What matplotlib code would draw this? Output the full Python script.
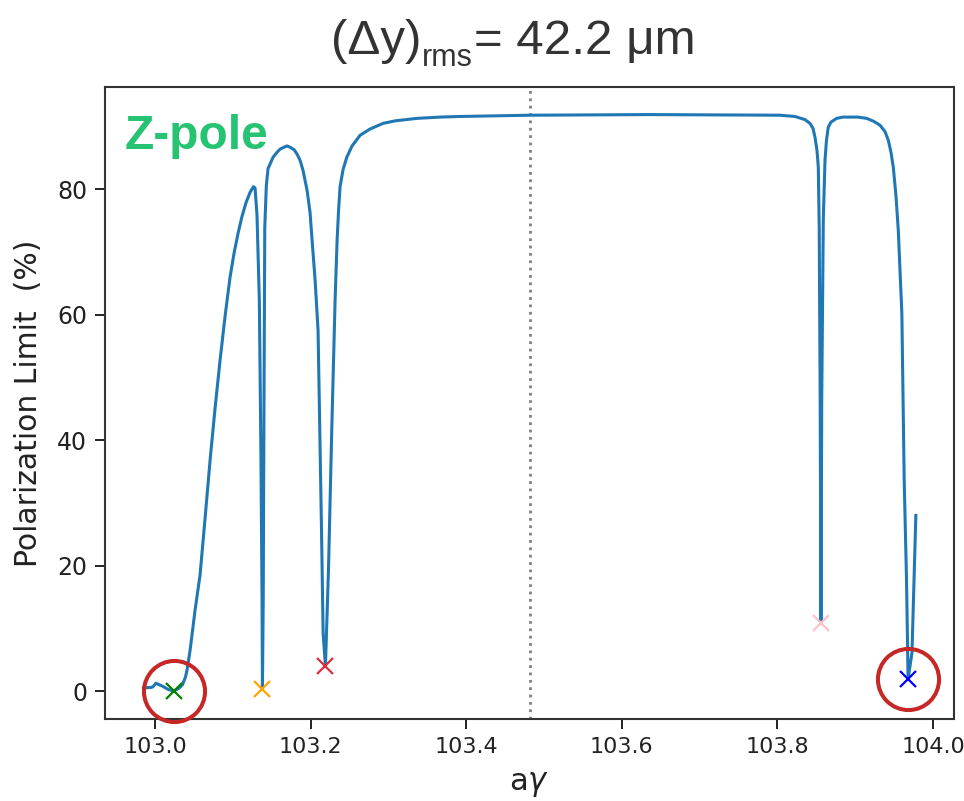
import matplotlib
matplotlib.use("Agg")
import matplotlib.pyplot as plt

# ---- data ----
a_gamma = [102.985, 102.994, 102.997, 103.001, 103.009, 103.017, 103.024, 103.031,
           103.035, 103.039, 103.041, 103.045, 103.0514, 103.0578, 103.0643, 103.0707,
           103.0771, 103.0835, 103.0900, 103.0964, 103.1015, 103.1067, 103.1118, 103.1170,
           103.1221, 103.1264, 103.1285, 103.131, 103.134, 103.136, 103.1375, 103.138,
           103.139, 103.140, 103.141, 103.143, 103.1452, 103.1517, 103.1568, 103.1607,
           103.1658, 103.1697, 103.1735, 103.1787, 103.1825, 103.1864, 103.1902, 103.1954,
           103.1992, 103.2018, 103.2057, 103.2095, 103.214, 103.216, 103.219, 103.223,
           103.227, 103.2314, 103.234, 103.2359, 103.2378, 103.2416, 103.2464, 103.2532,
           103.2635, 103.2763, 103.2931, 103.3085, 103.3368, 103.3663, 103.392, 103.482,
           103.636, 103.803, 103.8226, 103.8355, 103.8419, 103.8458, 103.8483, 103.8509,
           103.8526, 103.8538, 103.855, 103.856, 103.857, 103.859, 103.8612, 103.8631,
           103.8654, 103.8689, 103.8762, 103.8843, 103.8933, 103.9036, 103.9148, 103.9242,
           103.9319, 103.9383, 103.9426, 103.9460, 103.949, 103.9524, 103.9554, 103.960,
           103.963, 103.966, 103.968, 103.973, 103.978]
pol_limit = [0.5, 0.56, 0.64, 1.23, 0.80, 0.24, 0.0, 0.48,
             0.96, 2.2, 3.3, 6.5, 12.9, 18.5, 27.6, 36.8,
             45.1, 52.7, 59.8, 66.0, 69.8, 73.0, 75.7, 77.9,
             79.5, 80.4, 80.2, 75.9, 62.3, 38.4, 14.5, 0.3,
             14.5, 46.4, 73.9, 80.6, 83.3, 85.1, 85.9, 86.4,
             86.7, 86.9, 86.7, 86.3, 85.6, 84.6, 83.0, 79.8,
             76.3, 71.9, 65.5, 57.5, 25.2, 9.2, 4.0, 19.8,
             41.1, 62.3, 71.9, 76.7, 80.4, 83.1, 85.1, 86.9,
             88.6, 89.6, 90.5, 90.9, 91.3, 91.5, 91.6, 91.8,
             91.9, 91.8, 91.6, 91.1, 90.5, 89.7, 88.3, 86.2,
             83.5, 73.5, 46.4, 10.8, 46.4, 75.1, 84.6, 87.8,
             89.9, 90.7, 91.3, 91.5, 91.5, 91.5, 91.3, 90.8,
             90.2, 89.2, 87.8, 85.9, 83.5, 79.0, 73.5, 60.2,
             33.6, 17.7, 1.9, 6.1, 28.0]

res_x = [103.024, 103.138, 103.219, 103.856, 103.968]
res_y = [0.0, 0.3, 4.0, 10.8, 1.9]
res_colors = ["green", "orange", "#dc2f3c", "pink", "blue"]
circled = [0, 4]

nominal = 103.482
x_ticks = [103.0, 103.2, 103.4, 103.6, 103.8, 104.0]
y_ticks = [0, 20, 40, 60, 80]

title_main = "(Δy)"
title_sub = "rms"
title_rest = "= 42.2 μm"

# ---- figure ----
fig = plt.figure(figsize=(9.64, 8.01), dpi=100)
ax = fig.add_axes([0.109, 0.1024, 0.8806, 0.789])

ax.plot(a_gamma, pol_limit, color="#1f77b4", lw=2.2, zorder=2,
        solid_joinstyle="round")
ax.axvline(nominal, color="#808080", ls=":", lw=2.0, zorder=1)
for xv, yv, c in zip(res_x, res_y, res_colors):
    ax.plot([xv], [yv], marker="x", color=c, ms=12, mew=1.6, ls="none", zorder=3)
ax.plot([res_x[i] for i in circled], [res_y[i] for i in circled], marker="o",
        ms=44, mfc="none", mec="#c62828", mew=2.9, ls="none", clip_on=False, zorder=4)

ax.set_xlim(102.9357, 104.027)
ax.set_ylim(-4.46, 96.3)
ax.set_xticks(x_ticks)
ax.set_xticklabels([f"{v:.1f}" for v in x_ticks])
ax.set_yticks(y_ticks)
ax.tick_params(labelsize=17, length=7, width=1.4, pad=6, colors="#222222")
ax.tick_params(axis="x", labelsize=16)
for s in ax.spines.values():
    s.set_linewidth(1.5)
    s.set_color("#333333")

ax.set_ylabel("Polarization Limit  (%)", fontsize=21.5, color="#222222", labelpad=10)
ax.set_xlabel("a$\\gamma$", fontsize=22, color="#222222", labelpad=9)

ax.text(0.0236, 0.902, "Z-pole", transform=ax.transAxes, fontsize=34.5,
        fontweight="bold", family="Liberation Sans", color="#25c372", va="baseline")

# title composed of main text, lowered subscript and the rest
renderer = fig.canvas.get_renderer()
W, H = fig.bbox.width, fig.bbox.height
x0 = 331 / W
y_base = 1 - 54 / H
y_sub = 1 - 66 / H
t1 = fig.text(x0, y_base, title_main, fontsize=35.5, family="Liberation Sans",
              color="#333333", ha="left", va="baseline")
bb1 = t1.get_window_extent(renderer)
t2 = fig.text((bb1.x1 + 1) / W, y_sub, title_sub, fontsize=22, family="Liberation Sans",
              color="#333333", ha="left", va="baseline")
bb2 = t2.get_window_extent(renderer)
fig.text((bb2.x1 + 1) / W, y_base, title_rest, fontsize=35.5, family="Liberation Sans",
         color="#333333", ha="left", va="baseline")

fig.savefig("out.png", dpi=100)
